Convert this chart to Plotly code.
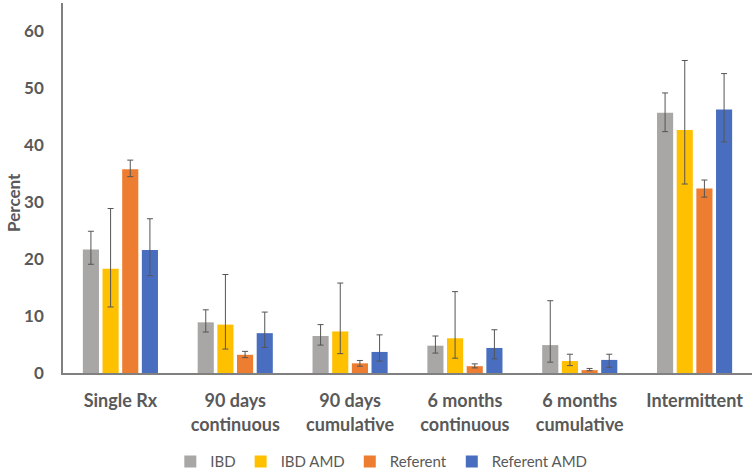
import plotly.graph_objects as go

categories = ["Single Rx", "90 days<br>continuous", "90 days<br>cumulative",
              "6 months<br>continuous", "6 months<br>cumulative", "Intermittent"]
series_names = ["IBD", "IBD AMD", "Referent", "Referent AMD"]
colors = ["#A9A6A6", "#FFC000", "#ED7D31", "#4A6EBF"]

ibd = [21.7, 8.9, 6.5, 4.8, 4.9, 45.7]
ibd_hi = [24.9, 11.1, 8.5, 6.5, 12.7, 49.2]
ibd_lo = [19.1, 7.2, 4.9, 3.5, 1.9, 42.4]

ibd_amd = [18.3, 8.5, 7.3, 6.1, 2.1, 42.7]
ibd_amd_hi = [28.9, 17.3, 15.8, 14.3, 3.3, 54.9]
ibd_amd_lo = [11.6, 4.2, 3.4, 2.6, 1.3, 33.2]

referent = [35.8, 3.2, 1.7, 1.2, 0.5, 32.4]
referent_hi = [37.4, 3.8, 2.2, 1.6, 0.8, 33.9]
referent_lo = [34.5, 2.7, 1.2, 0.9, 0.4, 30.9]

referent_amd = [21.6, 7.0, 3.7, 4.4, 2.3, 46.3]
referent_amd_hi = [27.1, 10.7, 6.7, 7.6, 3.3, 52.6]
referent_amd_lo = [17.1, 4.5, 2.1, 2.5, 1.0, 40.6]

y_ticks = [0, 10, 20, 30, 40, 50, 60]

data = [(ibd, ibd_hi, ibd_lo), (ibd_amd, ibd_amd_hi, ibd_amd_lo),
        (referent, referent_hi, referent_lo), (referent_amd, referent_amd_hi, referent_amd_lo)]

fig = go.Figure()
for name, color, (vals, hi, lo) in zip(series_names, colors, data):
    fig.add_trace(go.Bar(
        name=name, x=categories, y=vals, marker=dict(color=color, line=dict(width=0)),
        error_y=dict(type="data", symmetric=False,
                     array=[h - v for h, v in zip(hi, vals)],
                     arrayminus=[v - l for v, l in zip(vals, lo)],
                     color="#555555", thickness=1, width=3),
    ))

fig.update_layout(
    width=755, height=469,
    margin=dict(l=63, r=3, t=3, b=96, autoexpand=False),
    paper_bgcolor="white", plot_bgcolor="white",
    barmode="group", bargap=0.315, bargroupgap=0.18,
    font=dict(family="Lato", color="#595959"),
    legend=dict(orientation="h", x=0.462, xanchor="center", y=-0.24, yanchor="middle",
                font=dict(size=15, color="#595959"), itemwidth=30, traceorder="normal"),
    xaxis=dict(showline=True, linecolor="#808080", linewidth=1.5, showgrid=False,
               automargin=False,
               tickfont=dict(size=18, family="Lato", weight="bold", color="#595959"),
               ticks="", ticklabelstandoff=11),
    yaxis=dict(range=[0, 65], tickvals=y_ticks, showline=True, linecolor="#808080",
               linewidth=1.5, showgrid=False, zeroline=False, ticks="", automargin=False,
               tickfont=dict(size=17, family="Lato", weight="bold", color="#595959"),
               ticklabelstandoff=14),
    annotations=[dict(text="Percent", textangle=-90, xref="paper", yref="paper",
                      x=-0.071, y=0.46, xanchor="center", yanchor="middle", showarrow=False,
                      font=dict(size=17, family="Lato", weight="bold", color="#595959"))],
)

fig.write_html("out.html", config={"displayModeBar": False},
               post_script="document.body.style.margin='0';document.body.style.overflow='hidden';")
